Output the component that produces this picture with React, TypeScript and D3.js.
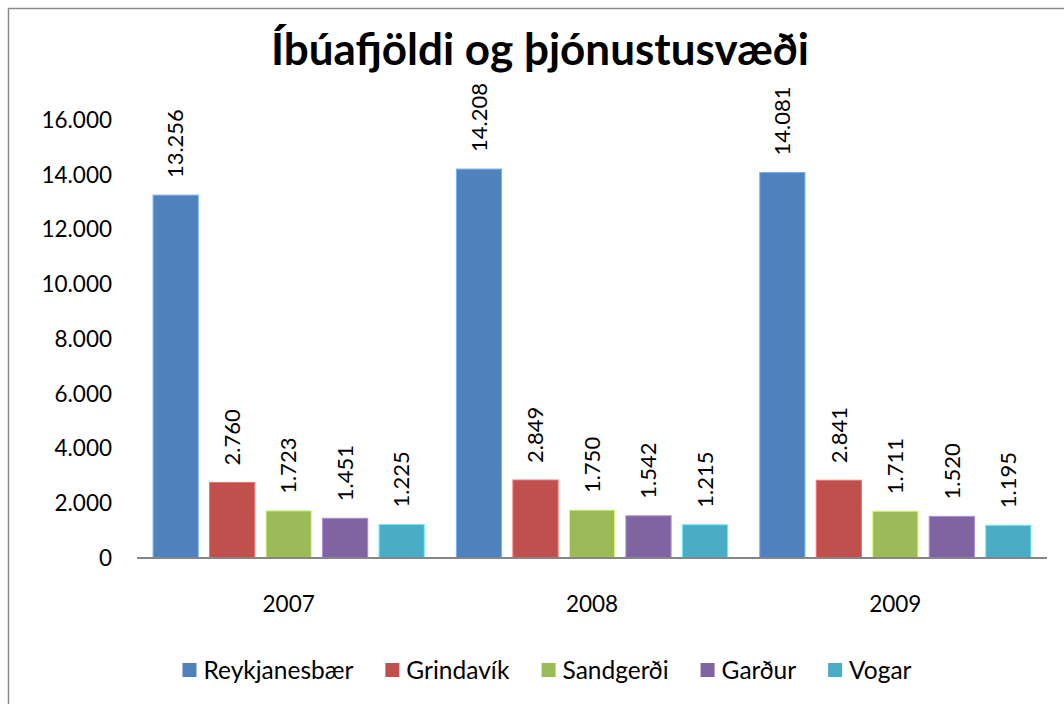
import React, { useEffect, useRef } from "react";
import * as d3 from "d3";

const title = "Íbúafjöldi og þjónustusvæði";
const years = ["2007", "2008", "2009"];
const series = ["Reykjanesbær", "Grindavík", "Sandgerði", "Garður", "Vogar"];
const colors = ["#4F81BD", "#C0504D", "#9BBB59", "#8064A2", "#4BACC6"];
const reykjanesbaer = [13256, 14208, 14081];
const grindavik = [2760, 2849, 2841];
const sandgerdi = [1723, 1750, 1711];
const gardur = [1451, 1542, 1520];
const vogar = [1225, 1215, 1195];
const yTicks = [0, 2000, 4000, 6000, 8000, 10000, 12000, 14000, 16000];

const values = [reykjanesbaer, grindavik, sandgerdi, gardur, vogar];

const W = 1064;
const H = 704;
const FONT = "Lato, 'Open Sans', sans-serif";

const fmt = (v: number) => {
  const s = String(Math.round(v));
  return s.replace(/\B(?=(\d{3})+(?!\d))/g, ".");
};

export default function App() {
  const ref = useRef<SVGSVGElement | null>(null);

  useEffect(() => {
    const svg = d3.select(ref.current);
    svg.selectAll("*").remove();

    // outer border
    svg
      .append("rect")
      .attr("x", 8.5)
      .attr("y", 8.5)
      .attr("width", W + 50)
      .attr("height", H + 50)
      .attr("fill", "white")
      .attr("stroke", "#8a8a8a")
      .attr("stroke-width", 1.5);

    const left = 137;
    const right = 1047;
    const x0 = d3.scaleBand<string>().domain(years).range([left, right]).padding(0);
    const bw = x0.bandwidth();
    const x1 = d3
      .scaleBand<string>()
      .domain(series)
      .range([bw * 0.053, bw * 0.947])
      .paddingInner(0.2)
      .paddingOuter(0);
    const y = d3.scaleLinear().domain([0, 16000]).range([558, 120]);

    // title
    svg
      .append("text")
      .attr("x", 540)
      .attr("y", 65)
      .attr("text-anchor", "middle")
      .attr("font-family", FONT)
      .attr("font-weight", "bold")
      .attr("font-size", 44)
      .attr("fill", "#000")
      .text(title);

    // y ticks
    svg
      .append("g")
      .selectAll("text")
      .data(yTicks)
      .join("text")
      .attr("x", 112)
      .attr("y", (d) => y(d))
      .attr("dy", "0.35em")
      .attr("text-anchor", "end")
      .attr("font-family", FONT)
      .attr("font-size", 22.5)
      .attr("fill", "#000")
      .text((d) => fmt(d));

    // bars
    const g = svg.append("g");
    years.forEach((yr, i) => {
      series.forEach((s, j) => {
        const v = values[j][i];
        const bx = (x0(yr) as number) + (x1(s) as number);
        const c = d3.color(colors[j])!;
        g.append("rect")
          .attr("x", bx)
          .attr("y", y(v))
          .attr("width", x1.bandwidth())
          .attr("height", y(0) - y(v))
          .attr("fill", colors[j])
          .attr("stroke", c.brighter(0.9).formatHex())
          .attr("stroke-width", 1);
        const cx = bx + x1.bandwidth() / 2;
        const ty = y(v) - 17;
        g.append("text")
          .attr("transform", `translate(${cx},${ty}) rotate(-90)`)
          .attr("text-anchor", "start")
          .attr("dy", "0.35em")
          .attr("font-family", FONT)
          .attr("font-size", 22)
          .attr("fill", "#000")
          .text(fmt(v));
      });
    });

    // axis line
    svg
      .append("line")
      .attr("x1", left)
      .attr("x2", right)
      .attr("y1", y(0))
      .attr("y2", y(0))
      .attr("stroke", "#868686")
      .attr("stroke-width", 2);

    // x labels
    svg
      .append("g")
      .selectAll("text")
      .data(years)
      .join("text")
      .attr("x", (d) => (x0(d) as number) + bw / 2)
      .attr("y", 604)
      .attr("dy", "0.35em")
      .attr("text-anchor", "middle")
      .attr("font-family", FONT)
      .attr("font-size", 22.5)
      .attr("fill", "#000")
      .text((d) => d);

    // legend
    const lg = svg.append("g");
    const ly = 670;
    const sq = 14;
    const gapSq = 7;
    const gapItem = 32;
    const items = series.map((s, j) => {
      const t = lg
        .append("text")
        .attr("font-family", FONT)
        .attr("font-size", 24.5)
        .attr("fill", "#000")
        .attr("y", ly)
        .attr("dy", "0.35em")
        .text(s);
      const w = (t.node() as SVGTextElement).getComputedTextLength();
      return { t, w, j };
    });
    const total =
      items.reduce((a, it) => a + sq + gapSq + it.w, 0) + gapItem * (items.length - 1);
    let cx = 547 - total / 2;
    items.forEach((it) => {
      lg.append("rect")
        .attr("x", cx)
        .attr("y", ly - sq / 2)
        .attr("width", sq)
        .attr("height", sq)
        .attr("fill", colors[it.j]);
      it.t.attr("x", cx + sq + gapSq);
      cx += sq + gapSq + it.w + gapItem;
    });
  }, []);

  return (
    <svg
      ref={ref}
      width={W}
      height={H}
      style={{ position: "fixed", left: 0, top: 0, background: "white" }}
    />
  );
}
